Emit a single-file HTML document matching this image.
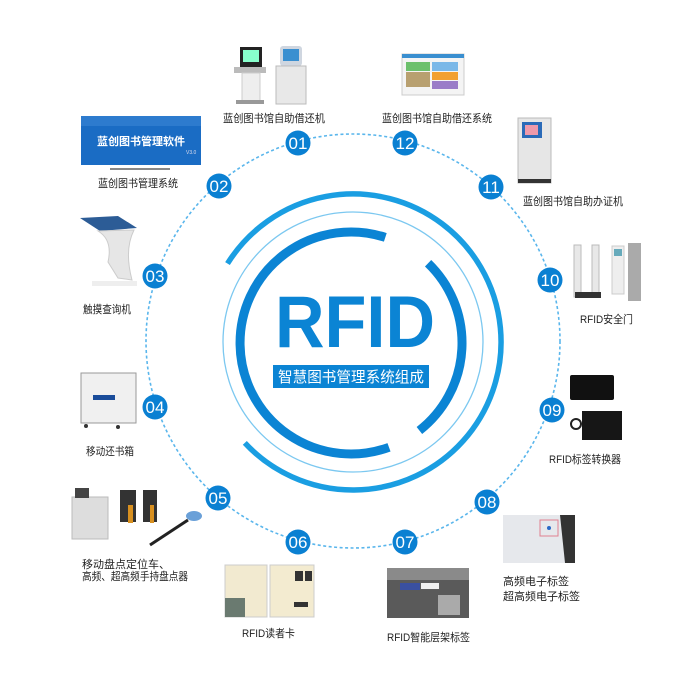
<!DOCTYPE html>
<html><head><meta charset="utf-8"><style>
html,body{margin:0;padding:0;background:#fff;}
svg{display:block;}
text{font-family:"Liberation Sans","Noto Sans CJK SC",sans-serif;}
</style></head><body>
<svg width="700" height="700" viewBox="0 0 700 700" xmlns="http://www.w3.org/2000/svg">
<rect width="700" height="700" fill="#fff"/>
<circle cx="353" cy="341" r="207" fill="none" stroke="#5ab6ec" stroke-width="1.6" stroke-dasharray="3 2.5"/>
<circle cx="353" cy="342" r="130" fill="none" stroke="#7cc8f0" stroke-width="1.3"/>
<path d="M227.5,263.6 A148,148 0 1 1 244.8,442.9" fill="none" stroke="#1a9ee2" stroke-width="5.5"/>
<path d="M428.1,263.2 A111,111 0 0 1 419.4,430.5" fill="none" stroke="#0b84d4" stroke-width="9"/>
<path d="M389,447.3 A111,111 0 1 1 385.3,237.4" fill="none" stroke="#0b84d4" stroke-width="9"/>
<text x="355" y="347" text-anchor="middle" font-size="73" font-weight="bold" fill="#0b84d4" textLength="160" lengthAdjust="spacingAndGlyphs">RFID</text>
<rect x="273" y="365" width="156" height="23" fill="#0b84d4"/>
<text x="351" y="382" text-anchor="middle" font-size="15" fill="#fff" textLength="146" lengthAdjust="spacingAndGlyphs">智慧图书管理系统组成</text>

<g fill="#0a80d2">
<circle cx="298" cy="143" r="12.5"/><circle cx="219" cy="186" r="12.5"/><circle cx="155" cy="276" r="12.5"/>
<circle cx="155" cy="407" r="12.5"/><circle cx="218" cy="498" r="12.5"/><circle cx="298" cy="542" r="12.5"/>
<circle cx="405" cy="542" r="12.5"/><circle cx="487" cy="502" r="12.5"/><circle cx="552" cy="410" r="12.5"/>
<circle cx="550" cy="280" r="12.5"/><circle cx="491" cy="187" r="12.5"/><circle cx="405" cy="143" r="12.5"/>
</g>
<g fill="#fff" font-size="17" text-anchor="middle">
<text x="298" y="149">01</text><text x="219" y="192">02</text><text x="155" y="282">03</text>
<text x="155" y="413">04</text><text x="218" y="504">05</text><text x="298" y="548">06</text>
<text x="405" y="548">07</text><text x="487" y="508">08</text><text x="552" y="416">09</text>
<text x="550" y="286">10</text><text x="491" y="193">11</text><text x="405" y="149">12</text>
</g>

<g fill="#222" font-size="11">
<text x="223" y="122" textLength="102" lengthAdjust="spacingAndGlyphs">蓝创图书馆自助借还机</text>
<text x="98" y="187" textLength="80" lengthAdjust="spacingAndGlyphs">蓝创图书管理系统</text>
<text x="382" y="122" textLength="110" lengthAdjust="spacingAndGlyphs">蓝创图书馆自助借还系统</text>
<text x="523" y="205" textLength="100" lengthAdjust="spacingAndGlyphs">蓝创图书馆自助办证机</text>
<text x="580" y="323" textLength="53" lengthAdjust="spacingAndGlyphs">RFID安全门</text>
<text x="83" y="313" textLength="48" lengthAdjust="spacingAndGlyphs">触摸查询机</text>
<text x="86" y="455" textLength="48" lengthAdjust="spacingAndGlyphs">移动还书箱</text>
<text x="82" y="568">移动盘点定位车、</text>
<text x="82" y="580" textLength="106" lengthAdjust="spacingAndGlyphs">高频、超高频手持盘点器</text>
<text x="242" y="637" textLength="53" lengthAdjust="spacingAndGlyphs">RFID读者卡</text>
<text x="387" y="641" textLength="83" lengthAdjust="spacingAndGlyphs">RFID智能层架标签</text>
<text x="503" y="585">高频电子标签</text>
<text x="503" y="600">超高频电子标签</text>
<text x="549" y="463" textLength="72" lengthAdjust="spacingAndGlyphs">RFID标签转换器</text>
</g>

<g>
<rect x="240" y="47" width="22" height="20" fill="#222"/><rect x="243" y="50" width="16" height="12" fill="#8fc"/>
<rect x="234" y="67" width="32" height="6" fill="#bbb"/><rect x="242" y="73" width="18" height="28" fill="#eee" stroke="#ccc"/>
<rect x="236" y="100" width="28" height="4" fill="#999"/>
<rect x="280" y="46" width="22" height="20" rx="3" fill="#cfd6e0"/><rect x="283" y="49" width="16" height="12" fill="#3a8fd0"/>
<rect x="276" y="66" width="30" height="38" fill="#e8e8e8" stroke="#bbb"/>
</g>
<rect x="81" y="116" width="120" height="49" fill="#1a6cc4"/>
<rect x="81" y="116" width="120" height="10" fill="#3a86d6" opacity=".6"/>
<text x="141" y="145" text-anchor="middle" font-size="11" font-weight="bold" fill="#fff">蓝创图书管理软件</text>
<text x="186" y="154" font-size="5" fill="#dde">V3.0</text>
<rect x="110" y="168" width="60" height="2" fill="#888"/>
<rect x="402" y="54" width="62" height="41" fill="#f4f4f4" stroke="#ccc"/>
<rect x="402" y="54" width="62" height="4" fill="#3a8fd0"/>
<rect x="406" y="62" width="24" height="9" fill="#6cc06c"/><rect x="432" y="62" width="26" height="9" fill="#7ab8e8"/>
<rect x="406" y="72" width="24" height="15" fill="#b8a070"/><rect x="432" y="72" width="26" height="8" fill="#f2a030"/>
<rect x="432" y="81" width="26" height="8" fill="#9a7cc8"/>
<rect x="518" y="118" width="33" height="65" fill="#e6e6e6" stroke="#bbb"/>
<rect x="522" y="122" width="20" height="16" fill="#2a6ab8"/><rect x="525" y="125" width="13" height="10" fill="#e9a"/>
<rect x="518" y="179" width="33" height="4" fill="#333"/>
<rect x="574" y="245" width="7" height="52" fill="#e8e8e8" stroke="#bbb"/><rect x="592" y="245" width="7" height="52" fill="#e8e8e8" stroke="#bbb"/>
<rect x="575" y="292" width="26" height="6" fill="#333"/>
<rect x="612" y="246" width="12" height="48" fill="#eee" stroke="#ccc"/><rect x="614" y="249" width="8" height="7" fill="#6ab"/>
<rect x="628" y="243" width="13" height="58" fill="#aaa"/>
<polygon points="80,218 118,216 137,228 100,231" fill="#2c5c96"/>
<path d="M98,231 Q113,240 108,262 L118,278 L132,280 Q124,250 134,230 Z" fill="#e6e6e6" stroke="#ccc"/>
<rect x="92" y="281" width="45" height="5" fill="#eee"/>
<rect x="81" y="373" width="55" height="50" fill="#f0f0f0" stroke="#999"/>
<rect x="93" y="395" width="22" height="5" fill="#1a4c9a"/>
<circle cx="86" cy="426" r="2" fill="#333"/><circle cx="118" cy="427" r="2" fill="#333"/>
<rect x="72" y="497" width="36" height="42" fill="#ddd" stroke="#bbb"/>
<rect x="75" y="488" width="14" height="10" fill="#444"/>
<rect x="120" y="490" width="16" height="32" fill="#333"/><rect x="143" y="490" width="14" height="32" fill="#333"/>
<rect x="128" y="505" width="5" height="18" fill="#d89020"/><rect x="150" y="505" width="4" height="18" fill="#d89020"/>
<line x1="150" y1="545" x2="188" y2="520" stroke="#222" stroke-width="3"/>
<ellipse cx="194" cy="516" rx="8" ry="5" fill="#6aa0d8"/>
<rect x="225" y="565" width="42" height="52" fill="#f2ead0" stroke="#ccc"/>
<rect x="225" y="598" width="20" height="19" fill="#6a7a70"/>
<rect x="270" y="565" width="44" height="52" fill="#f3ebd0" stroke="#ccc"/>
<rect x="295" y="571" width="8" height="10" fill="#333"/><rect x="305" y="571" width="7" height="10" fill="#333"/>
<rect x="294" y="602" width="14" height="5" fill="#333"/>
<rect x="387" y="568" width="82" height="50" fill="#5a5a5a"/>
<rect x="387" y="568" width="82" height="12" fill="#8a8a8a"/>
<rect x="400" y="583" width="20" height="7" fill="#3a50a0"/><rect x="421" y="583" width="18" height="6" fill="#eee"/>
<rect x="438" y="595" width="22" height="20" fill="#aaa"/>
<rect x="503" y="515" width="72" height="48" fill="#e6e8ec"/>
<polygon points="560,515 575,515 575,563 565,563" fill="#333"/>
<rect x="540" y="520" width="18" height="16" fill="none" stroke="#e08090"/>
<circle cx="549" cy="528" r="2" fill="#2a6ac8"/>
<rect x="570" y="375" width="44" height="25" rx="2" fill="#111"/>
<rect x="582" y="411" width="40" height="29" fill="#161616"/>
<circle cx="576" cy="424" r="5" fill="none" stroke="#222" stroke-width="2"/>
</svg>
</body></html>
